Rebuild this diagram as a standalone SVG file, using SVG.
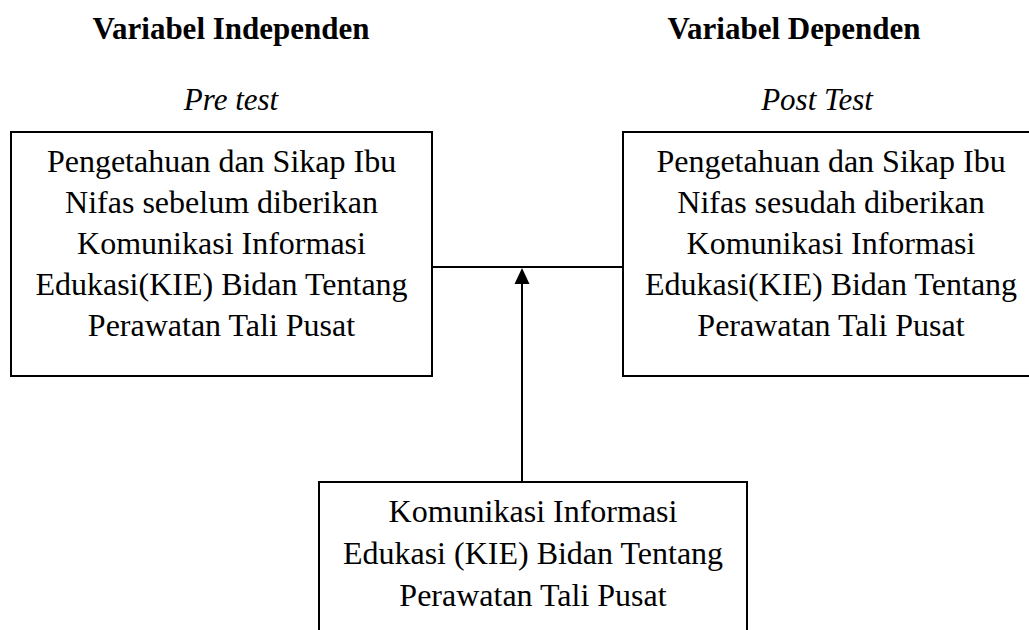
<svg xmlns="http://www.w3.org/2000/svg" width="1029" height="630" viewBox="0 0 1029 630">
<style>
.box{fill:#fff;stroke:#000;stroke-width:2}
text{font-family:'Liberation Serif','DejaVu Serif',serif;fill:#000;text-anchor:middle}
.t{font-size:32px}
.h{font-size:31px;font-weight:bold}
.i{font-size:31px;font-style:italic}
.c{stroke:#000;stroke-width:2;fill:none}
</style>
<rect width="1029" height="630" fill="#fff"/>
<g id="headings">
<text class="h" x="231" y="39">Variabel Independen</text>
<text class="h" x="794" y="39">Variabel Dependen</text>
<text class="i" x="231" y="110">Pre test</text>
<text class="i" x="817" y="110">Post Test</text>
</g>
<g id="connectors">
<line class="c" x1="432" y1="267" x2="623" y2="267"/>
<line class="c" x1="522" y1="482" x2="522" y2="284"/>
<path d="M522,268 L514.5,284 L529.5,284 Z" fill="#000"/>
</g>
<g id="pre">
<rect class="box" x="11" y="132" width="421" height="244"/>
<text class="t" x="221.5" y="172">Pengetahuan dan Sikap Ibu</text>
<text class="t" x="221.5" y="213">Nifas sebelum diberikan</text>
<text class="t" x="221.5" y="254">Komunikasi Informasi</text>
<text class="t" x="221.5" y="295">Edukasi(KIE) Bidan Tentang</text>
<text class="t" x="221.5" y="336">Perawatan Tali Pusat</text>
</g>
<g id="post">
<rect class="box" x="623" y="132" width="417" height="244"/>
<text class="t" x="831" y="172">Pengetahuan dan Sikap Ibu</text>
<text class="t" x="831" y="213">Nifas sesudah diberikan</text>
<text class="t" x="831" y="254">Komunikasi Informasi</text>
<text class="t" x="831" y="295">Edukasi(KIE) Bidan Tentang</text>
<text class="t" x="831" y="336">Perawatan Tali Pusat</text>
</g>
<g id="kie">
<rect class="box" x="319" y="482" width="428" height="160"/>
<text class="t" x="533" y="522">Komunikasi Informasi</text>
<text class="t" x="533" y="564">Edukasi (KIE) Bidan Tentang</text>
<text class="t" x="533" y="606">Perawatan Tali Pusat</text>
</g>
</svg>
